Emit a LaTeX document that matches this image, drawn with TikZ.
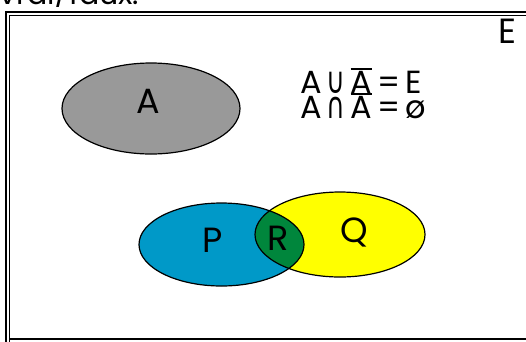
\documentclass[tikz,border=0pt]{standalone}
\usepackage{fontspec}
\setmainfont{Poppins}
\newfontfamily\symfont{DejaVu Sans}
\definecolor{setgrey}{RGB}{153,153,153}
\definecolor{setblue}{RGB}{0,153,200}
\definecolor{setgreen}{RGB}{0,134,60}
\definecolor{setyellow}{RGB}{255,255,0}
\tikzset{
  setline/.style={draw=black, line width=1.2pt},
  lbl/.style={font=\fontsize{35}{40}\selectfont, inner sep=0pt, anchor=center},
  eq/.style={font=\fontsize{32}{38}\selectfont, inner sep=0pt, anchor=base west},
}
\newcommand{\barA}{{\setbox0\hbox{A}\rlap{\raisebox{\dimexpr\fontcharht\font`A+1.5pt\relax}{\rule{\wd0}{1.6pt}}}A}}
\newcommand{\gap}{\hspace{5pt}}
\newcommand{\setop}[1]{{\symfont\scalebox{0.8}[1.15]{#1}}}
\begin{document}
\begin{tikzpicture}[x=1pt,y=-1pt]
\useasboundingbox (0,0) rectangle (526,341);
\fill[white] (0,0) rectangle (526,341);
% cropped text at top
\begin{scope}
\clip (0,0) rectangle (526,6);
\node[font=\fontsize{30}{34}\selectfont, inner sep=0pt, anchor=base west] (toptext) at (-1,4.5) {vrai/faux.};
\end{scope}
% frame
\draw[line width=2pt] (6,341.5) -- (6,12) -- (527,12);
\draw[line width=1pt] (9.5,341.5) -- (9.5,15) -- (527,15);
\draw[line width=2pt] (9.5,338.5) -- (527,338.5);
\node[lbl] (E) at (507,31.5) {E};
% set A
\path[setline, fill=setgrey] (151,108.5) ellipse [x radius=89, y radius=45.5];
\node[lbl] (A) at (148,101) {A};
% equations
\node[eq] (eq1) at (300,93.5) {A\gap\setop{∪}\gap\barA\gap=\gap E};
\node[eq] (eq2) at (300,118.5) {A\gap\setop{∩}\gap\barA\gap=\gap ø};
% P and Q
\path[fill=setblue] (221.5,244.5) ellipse [x radius=82.5, y radius=41.5];
\path[fill=setyellow] (340,234.5) ellipse [x radius=85, y radius=42.5];
\begin{scope}
\clip (221.5,244.5) ellipse [x radius=82.5, y radius=41.5];
\fill[setgreen] (340,234.5) ellipse [x radius=85, y radius=42.5];
\end{scope}
\draw[setline] (221.5,244.5) ellipse [x radius=82.5, y radius=41.5];
\draw[setline] (340,234.5) ellipse [x radius=85, y radius=42.5];
\node[lbl] (P) at (212.5,240.5) {P};
\node[lbl] (R) at (278.5,238) {R};
\node[lbl] (Q) at (354,232.5) {Q};
\end{tikzpicture}
\end{document}
